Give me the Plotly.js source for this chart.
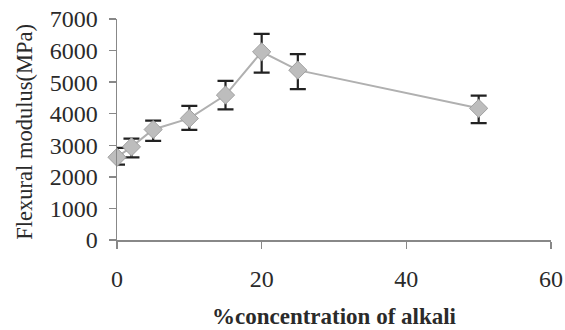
<!DOCTYPE html>
<html>
<head>
<meta charset="utf-8">
<script src="https://cdn.plot.ly/plotly-3.0.1.min.js"></script>
<style>html,body{margin:0;padding:0;background:#fff;}#chart{width:565px;height:330px;}</style>
</head>
<body>
<div id="chart"></div>
<script>
var alkaliConc = [0, 2, 5, 10, 15, 20, 25, 50];
var flexModulus = [2620, 2950, 3500, 3850, 4590, 5960, 5380, 4170];
var errPlus = [300, 260, 280, 400, 450, 570, 510, 400];
var errMinus = [230, 330, 360, 360, 450, 660, 600, 470];
var xTicks = [0, 20, 40, 60];
var yTicks = [0, 1000, 2000, 3000, 4000, 5000, 6000, 7000];
var yTitle = 'Flexural modulus(MPa)';
var xTitle = '%concentration of alkali';

var fontFam = '"Liberation Serif", "Times New Roman", serif';
var txtCol = '#2a2a2a';

var trace = {
  x: alkaliConc,
  y: flexModulus,
  type: 'scatter',
  mode: 'lines+markers',
  cliponaxis: false,
  line: {color: '#b0b0b0', width: 2},
  marker: {symbol: 'diamond', size: 14, color: '#bdbdbd', line: {color: '#a0a0a0', width: 1}},
  error_y: {type: 'data', symmetric: false, array: errPlus, arrayminus: errMinus,
            color: '#222', thickness: 2.2, width: 8}
};

var layout = {
  width: 565, height: 330,
  margin: {l: 117, r: 14, t: 19, b: 90},
  paper_bgcolor: '#fff', plot_bgcolor: '#fff',
  showlegend: false,
  font: {family: fontFam, color: txtCol, size: 24},
  xaxis: {
    range: [0, 60], tickvals: xTicks, ticktext: xTicks.map(String),
    showgrid: false, zeroline: false, showline: true, linecolor: '#888', linewidth: 1.5,
    ticks: 'outside', ticklen: 7, tickcolor: '#888', tickwidth: 1.5,
    ticklabelstandoff: 10,
    tickfont: {family: fontFam, size: 24, color: txtCol},
    title: {text: '<b>' + xTitle + '</b>', font: {family: fontFam, size: 23, color: txtCol}, standoff: 16}
  },
  yaxis: {
    range: [0, 7000], tickvals: yTicks, ticktext: yTicks.map(String),
    showgrid: false, zeroline: false, showline: true, linecolor: '#888', linewidth: 1.5,
    ticks: 'outside', ticklen: 7, tickcolor: '#888', tickwidth: 1.5,
    ticklabelstandoff: 6,
    tickfont: {family: fontFam, size: 24, color: txtCol}
  },
  annotations: [{
    text: yTitle, textangle: -90, showarrow: false,
    xref: 'paper', yref: 'paper', x: -0.212, y: 0.49,
    xanchor: 'center', yanchor: 'middle',
    font: {family: fontFam, size: 22.5, color: txtCol}
  }]
};

Plotly.newPlot('chart', [trace], layout, {displayModeBar: false, staticPlot: true});
</script>
</body>
</html>
